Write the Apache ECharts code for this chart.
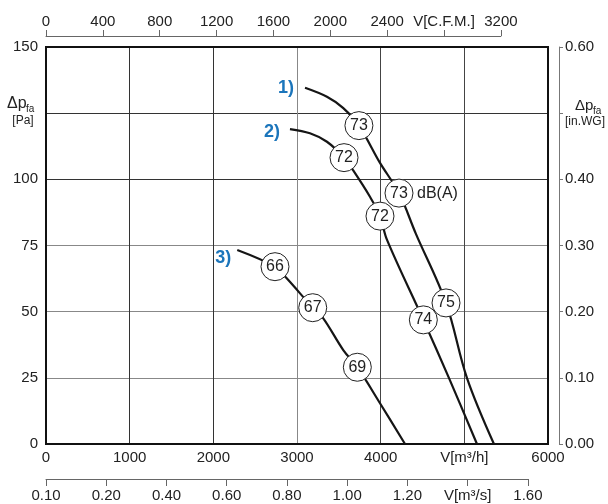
<!DOCTYPE html>
<html>
<head>
<meta charset="utf-8">
<script src="https://cdn.jsdelivr.net/npm/echarts@6/dist/echarts.min.js"></script>
<style>
html,body{margin:0;padding:0;background:#fff;}
#c{width:608px;height:504px;}
</style>
</head>
<body>
<div id="c"></div>
<script>
// ---- tick labels ----
const flowLabelsM3h = ['0', '1000', '2000', '3000', '4000', 'V[m³/h]', '6000'];
const flowLabelsCFM = ['0', '400', '800', '1200', '1600', '2000', '2400', 'V[C.F.M.]', '3200'];
const flowLabelsM3s = ['0.10', '0.20', '0.40', '0.60', '0.80', '1.00', '1.20', 'V[m³/s]', '1.60'];
const pressureLabelsPa = ['0', '25', '50', '75', '100', '', '150'];
const pressureLabelsIn = ['0.00', '0.10', '0.20', '0.30', '0.40', '', '0.60'];

// ---- curves (flow m³/h, pressure Pa) ----
const curve1Flow = [3096, 3358, 3550, 3740, 3992, 4219, 4420, 4781, 5032, 5354];
const curve1Pressure = [134.6, 131.2, 127.0, 120.3, 106.2, 94.8, 79.5, 53.3, 24.9, 0];
const curve2Flow = [2916, 3155, 3358, 3562, 3669, 3872, 3992, 4076, 4510, 4817, 5151];
const curve2Pressure = [119.0, 117.4, 114.2, 108.2, 103.5, 93.4, 86.1, 77.1, 46.9, 24.9, 0];
const curve3Flow = [2286, 2737, 2877, 3188, 3314, 3553, 3721, 3992, 4291];
const curve3Pressure = [73.3, 67.0, 62.6, 51.5, 47.5, 35.5, 29.0, 15.4, 0];

// ---- noise markers dB(A) ----
const noiseFlow = [3740, 4219, 4781, 3562, 3992, 4510, 2737, 3188, 3721];
const noisePressure = [120.3, 94.8, 53.3, 108.2, 86.1, 46.9, 67.0, 51.5, 29.0];
const noiseLevel = ['73', '73', '75', '72', '72', '74', '66', '67', '69'];
const noiseUnit = 'dB(A)';
const noiseUnitAt = 1; // index of the marker carrying the unit

const curveTags = ['1)', '2)', '3)'];

const M3H_PER_CFM = 1.69901;

const chart = echarts.init(document.getElementById('c'), null, {renderer: 'canvas'});

const FONT = '"Liberation Sans", Arial, Helvetica, sans-serif';
const TXT = '#222';
const CLEAR = 'rgba(0,0,0,0)';

const zip = (a, b) => a.map((v, i) => [v, b[i]]);

const gridL = 46, gridT = 47, gridW = 502, gridH = 397;
const xMax = 6000;
const cfmMax = 3200, m3sMax = 1.6;

const option = {
  animation: false,
  backgroundColor: '#fff',
  textStyle: {fontFamily: FONT},
  grid: [
    {left: gridL, top: gridT, width: gridW, height: gridH, show: true, borderColor: '#111', borderWidth: 2, backgroundColor: 'transparent', z: 5},
    {left: gridL, top: 36, width: gridW * (cfmMax * M3H_PER_CFM) / xMax, height: 10},
    {left: gridL, top: 469, width: gridW * (m3sMax * 3600) / xMax, height: 10}
  ],
  xAxis: [
    {
      gridIndex: 0, type: 'value', min: 0, max: xMax, interval: 1000,
      axisLine: {show: false}, axisTick: {show: false},
      axisLabel: {color: TXT, fontSize: 15, margin: 6, fontFamily: FONT,
        formatter: v => flowLabelsM3h[Math.round(v / 1000)]},
      splitLine: {show: true, lineStyle: {width: 1, color: ['#000', '#333', '#333', '#888', '#444', '#444', '#000']}}
    },
    {
      gridIndex: 1, type: 'value', min: 0, max: cfmMax, interval: 400, position: 'top',
      axisLine: {show: true, onZero: false, lineStyle: {color: '#666', width: 1}},
      axisTick: {show: true, length: 6, lineStyle: {color: '#666'}},
      axisLabel: {color: TXT, fontSize: 15, margin: 7, fontFamily: FONT,
        formatter: v => flowLabelsCFM[Math.round(v / 400)]},
      splitLine: {show: false}
    },
    {
      gridIndex: 2, type: 'value', min: 0, max: m3sMax, interval: 0.2, position: 'bottom',
      axisLine: {show: true, onZero: false, lineStyle: {color: '#666', width: 1}},
      axisTick: {show: true, length: 7, lineStyle: {color: '#666'}},
      axisLabel: {color: TXT, fontSize: 15, margin: 9, fontFamily: FONT,
        formatter: v => flowLabelsM3s[Math.round(v / 0.2)]},
      splitLine: {show: false}
    }
  ],
  yAxis: [
    {
      gridIndex: 0, type: 'value', min: 0, max: 150, interval: 25,
      axisLine: {show: false}, axisTick: {show: false},
      axisLabel: {color: TXT, fontSize: 15, margin: 8, fontFamily: FONT,
        formatter: v => pressureLabelsPa[Math.round(v / 25)]},
      splitLine: {show: true, lineStyle: {width: 1, color: ['#000', '#888', '#888', '#888', '#333', '#333', '#000']}}
    },
    {
      gridIndex: 0, type: 'value', min: 0, max: 0.6, interval: 0.1, position: 'right', offset: 11,
      axisLine: {show: true, onZero: false, lineStyle: {color: '#777', width: 1}},
      axisTick: {show: true, length: 4, lineStyle: {color: '#777'}},
      axisLabel: {color: TXT, fontSize: 15, margin: 6, fontFamily: FONT,
        formatter: v => pressureLabelsIn[Math.round(v / 0.1)]},
      splitLine: {show: false}
    },
    {gridIndex: 1, type: 'value', show: false},
    {gridIndex: 2, type: 'value', show: false}
  ],
  graphic: [
    {type: 'text', x: 7, y: 104, z: 10, style: {text: 'Δp', font: '16px ' + FONT, fill: TXT, verticalAlign: 'middle', align: 'left'}},
    {type: 'text', x: 26, y: 109, z: 10, style: {text: 'fa', font: '10px ' + FONT, fill: TXT, verticalAlign: 'middle', align: 'left'}},
    {type: 'text', x: 23, y: 121, z: 10, style: {text: '[Pa]', font: '12px ' + FONT, fill: TXT, verticalAlign: 'middle', align: 'center'}},
    {type: 'text', x: 575, y: 106, z: 10, style: {text: 'Δp', font: '15px ' + FONT, fill: TXT, verticalAlign: 'middle', align: 'left'}},
    {type: 'text', x: 593, y: 111, z: 10, style: {text: 'fa', font: '10px ' + FONT, fill: TXT, verticalAlign: 'middle', align: 'left'}},
    {type: 'text', x: 585, y: 122, z: 10, style: {text: '[in.WG]', font: '12px ' + FONT, fill: TXT, verticalAlign: 'middle', align: 'center'}}
  ],
  series: [
    ...[[curve1Flow, curve1Pressure], [curve2Flow, curve2Pressure], [curve3Flow, curve3Pressure]].map(([f, p]) => ({
      type: 'line', xAxisIndex: 0, yAxisIndex: 0, data: zip(f, p),
      showSymbol: false, smooth: 0.35, z: 6,
      lineStyle: {color: '#151515', width: 2.2}
    })),
    {
      type: 'scatter', xAxisIndex: 0, yAxisIndex: 0, z: 8,
      data: noiseFlow.map((f, i) => [f, noisePressure[i], noiseLevel[i]]),
      symbol: 'circle', symbolSize: 28,
      itemStyle: {color: '#fff', borderColor: '#222', borderWidth: 1, opacity: 1},
      label: {show: true, position: 'inside', formatter: p => p.data[2], color: TXT, fontSize: 16, fontFamily: FONT}
    },
    {
      type: 'scatter', xAxisIndex: 0, yAxisIndex: 0, z: 9, silent: true,
      data: [[noiseFlow[noiseUnitAt], noisePressure[noiseUnitAt]]],
      symbol: 'circle', symbolSize: 28,
      itemStyle: {color: CLEAR, opacity: 1},
      label: {show: true, position: 'right', distance: 4, formatter: noiseUnit, color: TXT, fontSize: 16, fontFamily: FONT}
    },
    {
      type: 'scatter', xAxisIndex: 0, yAxisIndex: 0, z: 9, silent: true,
      symbol: 'circle', symbolSize: 2, itemStyle: {color: CLEAR, opacity: 1},
      data: [
        {value: [curve1Flow[0], curve1Pressure[0]], name: curveTags[0], label: {distance: 10, offset: [0, 0]}},
        {value: [curve2Flow[0], curve2Pressure[0]], name: curveTags[1], label: {distance: 9, offset: [0, 3]}},
        {value: [curve3Flow[0], curve3Pressure[0]], name: curveTags[2], label: {distance: 5, offset: [0, 8]}}
      ],
      label: {show: true, position: 'left', formatter: p => p.name, color: '#1b75bb', fontSize: 18, fontWeight: 'bold', fontFamily: FONT}
    }
  ]
};
chart.setOption(option);
</script>
</body>
</html>
